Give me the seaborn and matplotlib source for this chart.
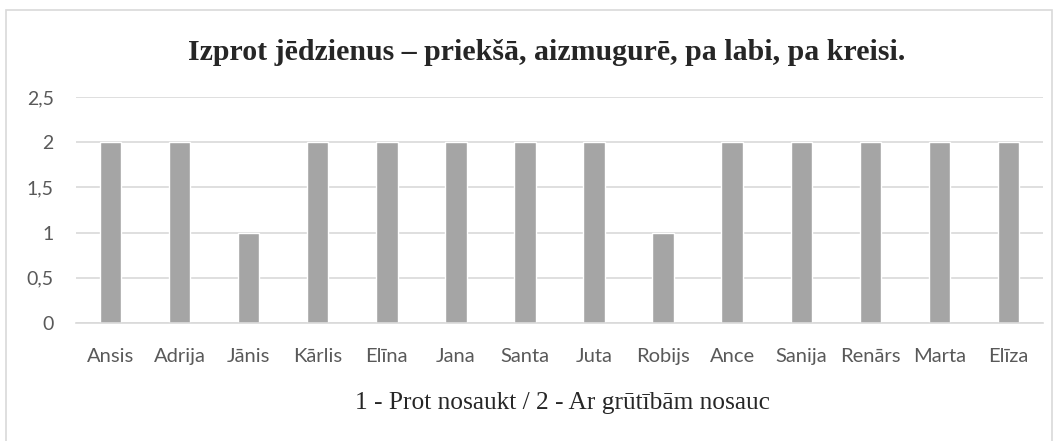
import matplotlib
matplotlib.use("Agg")
import matplotlib.pyplot as plt
import seaborn as sns
import pandas as pd
from matplotlib.patches import Rectangle
from matplotlib.ticker import FuncFormatter

# -------------------------------
# Data
# -------------------------------
names = ["Ansis", "Adrija", "Jānis", "Kārlis", "Elīna", "Jana", "Santa",
         "Juta", "Robijs", "Ance", "Sanija", "Renārs", "Marta", "Elīza"]
scores = [2, 2, 1, 2, 2, 2, 2, 2, 1, 2, 2, 2, 2, 2]
y_ticks = [0, 0.5, 1, 1.5, 2, 2.5]

df = pd.DataFrame({"name": names, "score": scores})

# -------------------------------
# Plot
# -------------------------------
sns.set_style("white")
plt.rcParams["font.family"] = ["Lato", "DejaVu Sans"]

fig = plt.figure(figsize=(10.59, 4.41), dpi=100)
ax = fig.add_axes([0.0718, 0.2676, 0.9131, 0.5125])

sns.barplot(data=df, x="name", y="score", color="#A5A5A5", width=0.31,
            saturation=1, ax=ax)

ax.set_ylim(0, 2.5)
ax.set_yticks(y_ticks)
ax.yaxis.set_major_formatter(FuncFormatter(lambda v, p: f"{v:g}".replace(".", ",")))
ax.grid(axis="y", color="#D9D9D9", linewidth=1.2)
ax.set_axisbelow(True)
for s in ["top", "right", "left"]:
    ax.spines[s].set_visible(False)
ax.spines["bottom"].set_color("#D9D9D9")
ax.spines["bottom"].set_linewidth(1.2)
ax.set_xlabel("")
ax.set_ylabel("")
ax.tick_params(axis="both", length=0, labelcolor="#595959")
ax.tick_params(axis="x", pad=28, labelsize=14.5)
ax.tick_params(axis="y", pad=16, labelsize=14)
for lbl in ax.get_xticklabels():
    lbl.set_verticalalignment("baseline")

fig.text(0.516, 0.882, "Izprot jēdzienus – priekšā, aizmugurē, pa labi, pa kreisi.",
         ha="center", va="center", fontsize=21.5, fontweight="bold",
         family="Liberation Serif")
fig.text(0.531, 0.087, "1 - Prot nosaukt / 2 - Ar grūtībām nosauc",
         ha="center", va="center", fontsize=18.3, family="Liberation Serif")

fig.patches.append(Rectangle((6 / 1059, -0.05), 1046 / 1059, 1.05 - 10 / 441,
                             transform=fig.transFigure, fill=False,
                             edgecolor="#D9D9D9", linewidth=1.2))

plt.savefig("out.png", dpi=100)
plt.close()
